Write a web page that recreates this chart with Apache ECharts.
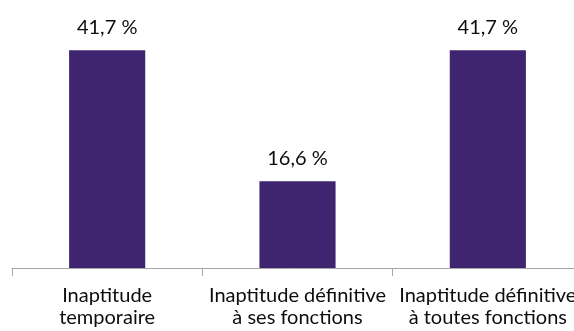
<!DOCTYPE html>
<html>
<head>
<meta charset="utf-8">
<script src="https://cdn.jsdelivr.net/npm/echarts@6/dist/echarts.min.js"></script>
<style>
  html, body { margin: 0; padding: 0; background: #fff; }
  #chart { width: 574px; height: 331px; }
</style>
</head>
<body>
<div id="chart"></div>
<script>
// Répartition des inaptitudes (en %)
const categories = [
  "Inaptitude\ntemporaire",
  "Inaptitude définitive\nà ses fonctions",
  "Inaptitude définitive\nà toutes fonctions"
];
const values = [41.7, 16.6, 41.7];

const chart = echarts.init(document.getElementById('chart'));
chart.setOption({
  animation: false,
  // the plot runs a little past the right edge of the canvas
  grid: { left: 12, width: 571, top: 7, bottom: 63, outerBoundsMode: 'none', containLabel: false },
  xAxis: {
    type: 'category',
    data: categories,
    axisLine: { lineStyle: { color: '#a6a6a6', width: 1 } },
    axisTick: { show: true, length: 8, lineStyle: { color: '#a6a6a6' } },
    axisLabel: {
      interval: 0,
      margin: 17,
      color: '#0d0d0d',
      fontFamily: 'Lato',
      fontSize: 20,
      lineHeight: 22
    }
  },
  yAxis: {
    type: 'value',
    min: 0,
    max: 50,
    show: false,
    splitLine: { show: false }
  },
  series: [{
    type: 'bar',
    data: values,
    barWidth: '40%',
    itemStyle: { color: '#3f2470' },
    label: {
      show: true,
      position: 'top',
      distance: 14,
      color: '#0d0d0d',
      fontFamily: 'Lato',
      fontSize: 20,
      lineHeight: 18,
      formatter: p => p.value.toFixed(1).replace('.', ',') + ' %'
    }
  }]
});
</script>
</body>
</html>
